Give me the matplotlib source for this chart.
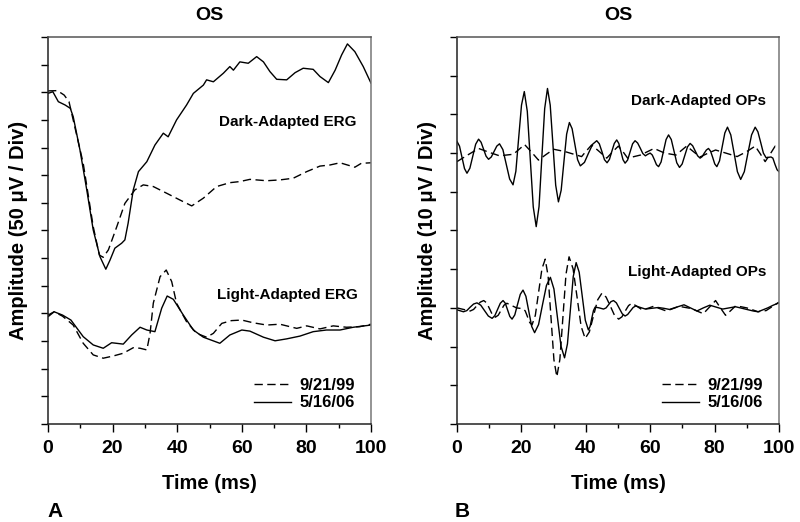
import matplotlib
matplotlib.use("Agg")
import matplotlib.pyplot as plt
from matplotlib.ticker import MultipleLocator

plt.rcParams['font.family'] = ['Liberation Sans', 'DejaVu Sans']
plt.rcParams['font.weight'] = 'bold'

# ---------------- Panel A: ERG (y in divisions of 50 uV) ----------------
da_solid_t = [0, 1.5, 3.2, 5.3, 6.9, 7.8, 9.9, 12, 14, 16.1, 17.9, 19.2, 20.7, 22.8, 23.8, 24.8,
              26.4, 28, 30.6, 33.1, 35.7, 37.2, 39.8, 42.9, 45, 48.1, 49.1, 51.2, 54.3, 56.3, 57.4,
              59.4, 62, 64.6, 66.7, 68.7, 70.8, 73.9, 76.5, 79, 82.1, 84.2, 86.8, 88.9, 90.9, 92.7,
              95, 97.6, 100]
da_solid_y = [11.96, 12.02, 11.66, 11.54, 11.42, 11.12, 9.91, 8.47, 7.02, 6.05, 5.6, 5.93, 6.36,
              6.54, 6.66, 7.26, 8.47, 9.13, 9.49, 10.09, 10.52, 10.39, 11.0, 11.54, 11.96, 12.26,
              12.45, 12.38, 12.69, 12.93, 12.8, 13.1, 13.05, 13.29, 13.1, 12.75, 12.47, 12.45,
              12.71, 12.87, 12.83, 12.57, 12.35, 12.8, 13.35, 13.75, 13.47, 12.93, 12.33]

da_dash_t = [0, 2.9, 5, 6.5, 7.8, 10.9, 14, 15.9, 17.1, 18.7, 21.3, 23.8, 26.9, 29.5, 32.6, 36.7,
             40.9, 44.5, 48.1, 52.2, 56.3, 59.4, 62.5, 67.7, 71.8, 75.9, 80.1, 84.2, 87.3, 90.4,
             95, 97, 100]
da_dash_y = [12.05, 12.06, 11.9, 11.66, 11.0, 9.43, 7.14, 6.11, 6.03, 6.3, 7.14, 7.98, 8.47, 8.65,
             8.59, 8.35, 8.1, 7.89, 8.17, 8.59, 8.73, 8.77, 8.85, 8.8, 8.83, 8.89, 9.13, 9.33,
             9.37, 9.45, 9.29, 9.43, 9.45]

la_solid_t = [0, 1.9, 4.5, 7.1, 10.9, 14, 17.1, 19.7, 23.3, 25.9, 28.5, 30.6, 33.1, 35.2, 36.9,
              38.8, 41.9, 45, 48.1, 53.2, 56.3, 60, 62.5, 66.7, 70.3, 73.9, 78, 82.1, 86.2, 90.4,
              94.5, 100]
la_solid_y = [3.94, 4.06, 3.94, 3.76, 3.16, 2.86, 2.74, 2.94, 2.89, 3.22, 3.5, 3.4, 3.34, 4.19,
              4.63, 4.51, 3.94, 3.4, 3.14, 2.92, 3.22, 3.4, 3.36, 3.14, 3.01, 3.08, 3.18, 3.34,
              3.4, 3.4, 3.5, 3.58]

la_dash_t = [0, 1.9, 4.5, 7.8, 10.9, 14, 17.1, 20.2, 23.3, 26.4, 28.5, 30.6, 31.6, 32.6, 34.7,
             36.6, 38.3, 39.8, 42.9, 46, 49.1, 51.2, 53.8, 56.8, 60, 63.6, 67.7, 71.8, 77, 80.1,
             84.2, 88.3, 92.4, 96.5, 100]
la_dash_y = [3.88, 4.06, 3.9, 3.58, 2.92, 2.5, 2.38, 2.46, 2.56, 2.76, 2.74, 2.68, 3.28, 4.37,
             5.33, 5.57, 5.15, 4.37, 3.7, 3.28, 3.14, 3.28, 3.64, 3.74, 3.76, 3.66, 3.58, 3.61,
             3.46, 3.55, 3.44, 3.55, 3.5, 3.52, 3.61]

# ---------------- Panel B: OPs (y in divisions of 10 uV) ----------------
dop_solid_t = [0, 0.78, 1.55, 2.33, 3.1, 4.0, 4.9, 5.8, 6.7, 7.48, 8.25, 9.03, 9.8, 10.65, 11.5,
               12.35, 13.2, 14.25, 15.3, 16.35, 17.4, 18.28, 19.15, 20.03, 20.9, 21.83, 22.75,
               23.68, 24.6, 25.48, 26.35, 27.23, 28.1, 28.95, 29.8, 30.65, 31.5, 32.35, 33.2,
               34.05, 34.9, 35.75, 36.6, 37.45, 38.3, 39.58, 40.85, 42.13, 43.4, 44.2, 45.0,
               45.8, 46.6, 47.35, 48.1, 48.85, 49.6, 50.25, 50.9, 51.55, 52.2, 52.98, 53.75,
               54.53, 55.3, 56.1, 56.9, 57.7, 58.5, 59.25, 60.0, 60.65, 61.3, 61.95, 62.6,
               63.38, 64.15, 64.93, 65.7, 66.55, 67.4, 68.25, 69.1, 69.93, 70.75, 71.58, 72.4,
               73.18, 73.95, 74.73, 75.5, 76.15, 76.8, 77.45, 78.1, 78.75, 79.4, 80.05, 80.7,
               81.53, 82.35, 83.18, 84.0, 85.03, 86.05, 87.08, 88.1, 89.23, 90.35, 91.48, 92.6,
               93.45, 94.3, 95.15, 96.0, 96.75, 97.5, 98.1, 98.75, 99.4, 100]
dop_solid_y = [7.30, 7.18, 6.89, 6.60, 6.48, 6.61, 6.92, 7.23, 7.36, 7.28, 7.10, 6.92, 6.84, 6.90,
               7.04, 7.18, 7.24, 7.09, 6.71, 6.33, 6.18, 6.53, 7.39, 8.24, 8.59, 8.08, 6.85,
               5.61, 5.10, 5.62, 6.89, 8.15, 8.67, 8.24, 7.21, 6.17, 5.74, 6.04, 6.77, 7.49,
               7.79, 7.63, 7.23, 6.83, 6.67, 6.76, 7.00, 7.23, 7.32, 7.24, 7.04, 6.83, 6.75,
               6.84, 7.05, 7.25, 7.34, 7.25, 7.04, 6.83, 6.74, 6.82, 7.03, 7.24, 7.32, 7.26,
               7.13, 6.99, 6.93, 6.97, 7.00, 6.95, 6.83, 6.70, 6.65, 6.77, 7.06, 7.35, 7.47,
               7.35, 7.05, 6.75, 6.63, 6.72, 6.94, 7.16, 7.25, 7.19, 7.06, 6.93, 6.87, 6.91,
               7.00, 7.08, 7.12, 7.05, 6.89, 6.72, 6.65, 6.80, 7.16, 7.52, 7.67, 7.47, 7.00,
               6.52, 6.32, 6.52, 7.00, 7.47, 7.67, 7.55, 7.28, 7.00, 6.88, 6.89, 6.90, 6.87,
               6.71, 6.57, 6.52]

dop_dash_t = [0, 3.3, 6.7, 10.0, 13.2, 17.5, 21.0, 23.2, 25.3, 27.6, 30.0, 33.5, 38.7, 40.2, 41.8,
              44.2, 46.5, 48.3, 50.1, 51.6, 53.0, 57.0, 61.2, 64.5, 68.0, 71.3, 73.4, 75.5, 78.0,
              80.3, 83.5, 87.0, 90.0, 92.6, 94.2, 95.7, 97.3, 98.8, 100]
dop_dash_y = [6.78, 6.95, 7.12, 7.02, 6.93, 6.97, 7.22, 7.02, 6.82, 6.96, 7.1, 7.04, 6.91, 7.06,
              7.21, 7.04, 6.87, 7.03, 7.18, 7.03, 6.87, 6.95, 7.12, 7.0, 6.95, 7.18, 7.04, 6.9,
              7.0, 7.08, 7.0, 6.91, 7.04, 7.18, 6.98, 6.78, 6.98, 7.18, 7.12]

lop_solid_t = [0, 2.0, 3.05, 4.1, 5.15, 6.2, 7.38, 8.55, 9.73, 10.9, 11.75, 12.6, 13.45, 14.3,
               15.0, 15.7, 16.4, 17.1, 17.95, 18.8, 19.65, 20.5, 21.4, 22.3, 23.2, 24.1, 25.33,
               26.55, 27.78, 29.0, 30.1, 31.2, 32.3, 33.4, 34.3, 35.2, 36.1, 37.0, 37.95, 38.9,
               39.85, 40.8, 41.33, 41.85, 42.38, 42.9, 44.2, 45.5, 46.3, 47.05, 47.8, 48.6,
               49.5, 50.4, 51.3, 52.2, 53.0, 53.85, 54.7, 55.5, 57.0, 58.5, 60.5, 62.5, 64.2,
               66.0, 68.2, 70.5, 72.5, 74.5, 76.5, 78.5, 80.5, 82.5, 84.5, 86.5, 88.5, 90.5,
               92.0, 93.5, 95.0, 96.5, 98.2, 100]
lop_solid_y = [2.95, 2.90, 2.93, 3.02, 3.10, 3.13, 3.07, 2.93, 2.79, 2.73, 2.80, 2.96, 3.12, 3.19,
               3.12, 2.95, 2.78, 2.71, 2.82, 3.09, 3.35, 3.46, 3.30, 2.91, 2.52, 2.36, 2.57,
               3.08, 3.58, 3.79, 3.49, 2.75, 2.01, 1.71, 2.07, 2.94, 3.81, 4.17, 3.92, 3.30,
               2.68, 2.43, 2.52, 2.73, 2.93, 3.02, 3.00, 2.97, 3.00, 3.08, 3.16, 3.19, 3.13,
               2.99, 2.85, 2.79, 2.83, 2.92, 3.01, 3.05, 3.01, 2.97, 2.99, 3.01, 2.99, 2.96,
               3.02, 3.08, 3.00, 2.92, 3.00, 3.07, 3.02, 2.97, 3.00, 3.03, 2.99, 2.95, 2.92,
               2.90, 2.95, 3.00, 3.07, 3.13]

lop_dash_t = [0, 2.05, 4.1, 5.15, 6.2, 7.25, 8.3, 9.2, 10.1, 11.0, 11.9, 12.8, 13.7, 14.6, 15.5,
              17.0, 18.5, 20.5, 21.2, 21.9, 22.6, 23.3, 24.33, 25.35, 26.38, 27.4, 28.3, 29.2,
              30.1, 31.0, 31.95, 32.9, 33.85, 34.8, 36.05, 37.3, 38.55, 39.8, 41.1, 42.4, 43.7,
              45.0, 46.3, 47.6, 48.9, 50.2, 51.23, 52.25, 53.28, 54.3, 55.9, 57.5, 59.3, 61.0,
              63.0, 65.0, 67.0, 69.0, 71.0, 73.0, 74.8, 76.5, 78.4, 80.3, 81.8, 83.4, 85.0,
              86.5, 88.2, 90.0, 91.8, 93.5, 94.8, 96.0, 98.0, 100]
lop_dash_y = [3.0, 2.96, 2.92, 2.96, 3.06, 3.15, 3.19, 3.13, 2.98, 2.82, 2.76, 2.81, 2.94, 3.07,
              3.12, 3.06, 3.0, 2.98, 2.92, 2.77, 2.62, 2.56, 2.81, 3.41, 4.01, 4.26, 3.82, 2.74,
              1.66, 1.22, 1.67, 2.77, 3.87, 4.32, 4.01, 3.27, 2.52, 2.21, 2.38, 2.80, 3.21, 3.38,
              3.28, 3.05, 2.81, 2.71, 2.77, 2.92, 3.06, 3.12, 3.04, 2.95, 2.99, 3.04, 2.98, 2.92,
              2.98, 3.04, 3.01, 2.98, 2.91, 2.85, 3.02, 3.19, 3.0, 2.81, 2.93, 3.05, 3.03, 3.0,
              2.95, 2.9, 2.92, 2.93, 3.04, 3.15]

legend_labels = ["9/21/99", "5/16/06"]

W, H = 800, 522
fig = plt.figure(figsize=(W / 100, H / 100), dpi=100)

def px_axes(x0, x1, y0, y1):
    return fig.add_axes([x0 / W, 1 - y1 / H, (x1 - x0) / W, (y1 - y0) / H])

axA = px_axes(48, 371, 37, 424)
axB = px_axes(457, 779, 37, 424)

DASH = (0, (6, 3.2))
LW = 1.0

def style(ax, ymax, ylabel):
    ax.set_xlim(0, 100)
    ax.set_ylim(0, ymax)
    ax.xaxis.set_major_locator(MultipleLocator(20))
    ax.xaxis.set_minor_locator(MultipleLocator(10))
    ax.yaxis.set_major_locator(MultipleLocator(1))
    ax.set_yticklabels([])
    ax.tick_params(axis='x', which='major', direction='out', length=5.5, width=1.0,
                   labelsize=14, pad=6)
    ax.tick_params(axis='x', which='minor', direction='out', length=3, width=1.0)
    ax.tick_params(axis='y', which='major', direction='out', length=5, width=1.0)
    ax.tick_params(axis='y', which='minor', left=False)
    for lab in ax.get_xticklabels():
        lab.set_fontweight('bold')
    ax.spines['left'].set_color('#222222')
    ax.spines['bottom'].set_color('#222222')
    ax.spines['top'].set_color('#555555')
    ax.spines['right'].set_color('#777777')
    for s in ax.spines.values():
        s.set_linewidth(1.1)
    ax.set_xlabel("Time (ms)", fontsize=14.5, fontweight='bold', labelpad=12)
    ax.set_ylabel(ylabel, fontsize=14.5, fontweight='bold', labelpad=6)
    ax.set_title("OS", fontsize=14, fontweight='bold', pad=12)

def add_legend(ax):
    ax.legend(loc='lower right', bbox_to_anchor=(0.972, 0.018), frameon=False, fontsize=12,
              handlelength=2.2, handletextpad=0.55, labelspacing=0.15, borderaxespad=0)

# Panel A
axA.plot(da_dash_t, da_dash_y, color='black', lw=LW, linestyle=DASH, label=legend_labels[0])
axA.plot(da_solid_t, da_solid_y, color='black', lw=LW, label=legend_labels[1])
axA.plot(la_dash_t, la_dash_y, color='black', lw=LW, linestyle=DASH)
axA.plot(la_solid_t, la_solid_y, color='black', lw=LW)
style(axA, 14, "Amplitude (50 \u03bcV / Div)")
axA.text(74.3, 10.93, "Dark-Adapted ERG", ha='center', va='center', fontsize=11, fontweight='bold')
axA.text(74.0, 4.67, "Light-Adapted ERG", ha='center', va='center', fontsize=11, fontweight='bold')
add_legend(axA)

# Panel B
axB.plot(dop_dash_t, dop_dash_y, color='black', lw=LW, linestyle=DASH, label=legend_labels[0])
axB.plot(dop_solid_t, dop_solid_y, color='black', lw=LW, label=legend_labels[1])
axB.plot(lop_dash_t, lop_dash_y, color='black', lw=LW, linestyle=DASH)
axB.plot(lop_solid_t, lop_solid_y, color='black', lw=LW)
style(axB, 10, "Amplitude (10 \u03bcV / Div)")
axB.text(74.9, 8.35, "Dark-Adapted OPs", ha='center', va='center', fontsize=11, fontweight='bold')
axB.text(74.6, 3.94, "Light-Adapted OPs", ha='center', va='center', fontsize=11, fontweight='bold')
add_legend(axB)

fig.text(47 / W, 1 - 517 / H, "A", fontsize=15, fontweight='bold', ha='left', va='baseline')
fig.text(455 / W, 1 - 517 / H, "B", fontsize=15, fontweight='bold', ha='left', va='baseline')

fig.savefig("out.png", dpi=100)
